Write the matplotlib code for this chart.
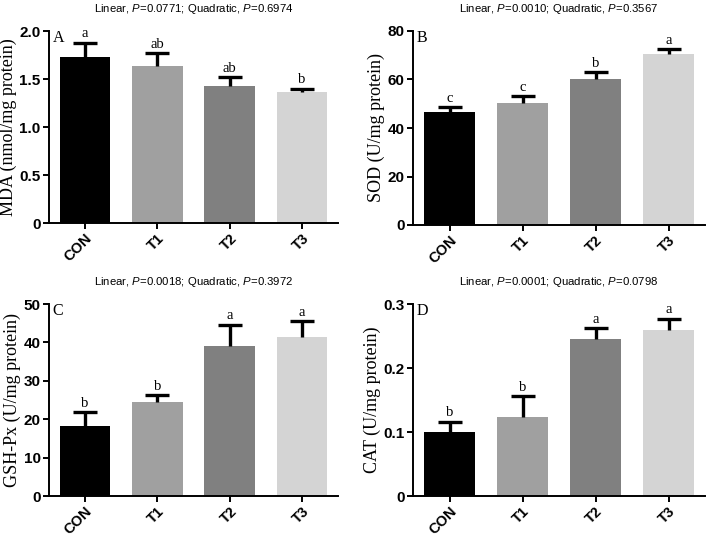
import matplotlib
matplotlib.use("Agg")
import matplotlib.pyplot as plt
import numpy as np

plt.rcParams['font.family'] = ['Liberation Sans', 'DejaVu Sans']
plt.rcParams['mathtext.fontset'] = 'custom'
plt.rcParams['mathtext.rm'] = 'Liberation Sans'
plt.rcParams['mathtext.it'] = 'Liberation Sans:italic'

groups = ["CON", "T1", "T2", "T3"]
bar_colors = ["#000000", "#a0a0a0", "#808080", "#d4d4d4"]

mda_mean = [1.73, 1.64, 1.43, 1.36]
mda_err = [0.15, 0.13, 0.09, 0.04]
mda_letters = ["a", "ab", "ab", "b"]

sod_mean = [46.4, 50.5, 60.1, 70.6]
sod_err = [2.1, 2.6, 2.9, 1.9]
sod_letters = ["c", "c", "b", "a"]

gsh_mean = [18.3, 24.4, 39.1, 41.4]
gsh_err = [3.5, 1.8, 5.5, 4.1]
gsh_letters = ["b", "b", "a", "a"]

cat_mean = [0.100, 0.124, 0.246, 0.259]
cat_err = [0.016, 0.032, 0.016, 0.018]
cat_letters = ["b", "b", "a", "a"]

panels = [
    dict(mean=mda_mean, err=mda_err, letters=mda_letters, tag="A",
         ylabel="MDA (nmol/mg protein)", ylim=2.0,
         yticks=[0, 0.5, 1.0, 1.5, 2.0], yticklabels=["0", "0.5", "1.0", "1.5", "2.0"],
         title="Linear, $P$=0.0771; Quadratic, $P$=0.6974",
         pos=[49/711, 1-223/536, 289/711, 192/536]),
    dict(mean=sod_mean, err=sod_err, letters=sod_letters, tag="B",
         ylabel="SOD (U/mg protein)", ylim=80,
         yticks=[0, 20, 40, 60, 80], yticklabels=["0", "20", "40", "60", "80"],
         title="Linear, $P$=0.0010; Quadratic, $P$=0.3567",
         pos=[413/711, 1-225/536, 292/711, 194/536]),
    dict(mean=gsh_mean, err=gsh_err, letters=gsh_letters, tag="C",
         ylabel="GSH-Px (U/mg protein)", ylim=50,
         yticks=[0, 10, 20, 30, 40, 50], yticklabels=["0", "10", "20", "30", "40", "50"],
         title="Linear, $P$=0.0018; Quadratic, $P$=0.3972",
         pos=[49/711, 1-496/536, 289/711, 192/536]),
    dict(mean=cat_mean, err=cat_err, letters=cat_letters, tag="D",
         ylabel="CAT (U/mg protein)", ylim=0.3,
         yticks=[0, 0.1, 0.2, 0.3], yticklabels=["0", "0.1", "0.2", "0.3"],
         title="Linear, $P$=0.0001; Quadratic, $P$=0.0798",
         pos=[413/711, 1-496/536, 292/711, 192/536]),
]

fig = plt.figure(figsize=(7.11, 5.36), dpi=100)
x = np.arange(len(groups))
for p in panels:
    ax = fig.add_axes(p["pos"])
    zeros = [0] * len(groups)
    ax.bar(x, p["mean"], width=0.7, color=bar_colors, zorder=2)
    _, caps, _ = ax.errorbar(x, p["mean"], yerr=[zeros, p["err"]], fmt="none",
                             ecolor="black", elinewidth=2.4, capsize=8.5,
                             capthick=2.4, zorder=3)
    # keep only the upper caps
    for c in caps:
        if np.allclose(np.asarray(c.get_ydata(), dtype=float), p["mean"]):
            c.set_visible(False)
    ax.set_xlim(-0.5, 3.5)
    ax.set_ylim(0, p["ylim"])
    ax.set_xticks(x)
    ax.set_xticklabels(groups, rotation=45, ha="right", rotation_mode="anchor",
                       fontsize=10.5, fontweight="bold")
    ax.set_yticks(p["yticks"])
    ax.set_yticklabels(p["yticklabels"], fontsize=11, fontweight="bold")
    for s in ["top", "right"]:
        ax.spines[s].set_visible(False)
    for s in ["left", "bottom"]:
        ax.spines[s].set_linewidth(1.4)
    ax.tick_params(axis="both", width=1.4, length=4, pad=2)
    ax.set_ylabel(p["ylabel"], family=["Liberation Serif"], fontsize=13, labelpad=2)
    ax.set_title(p["title"], fontsize=8.2, pad=13.5)
    ax.text(0.012, 1.005, p["tag"], transform=ax.transAxes, ha="left", va="top",
            family=["Liberation Serif"], fontsize=11.5)
    off = p["ylim"] * 0.012
    for xi, m, e, lt in zip(x, p["mean"], p["err"], p["letters"]):
        ax.text(xi, m + e + off, lt, ha="center", va="bottom",
                family=["Liberation Serif"], fontsize=10.5)

fig.savefig("out.png", dpi=100)
